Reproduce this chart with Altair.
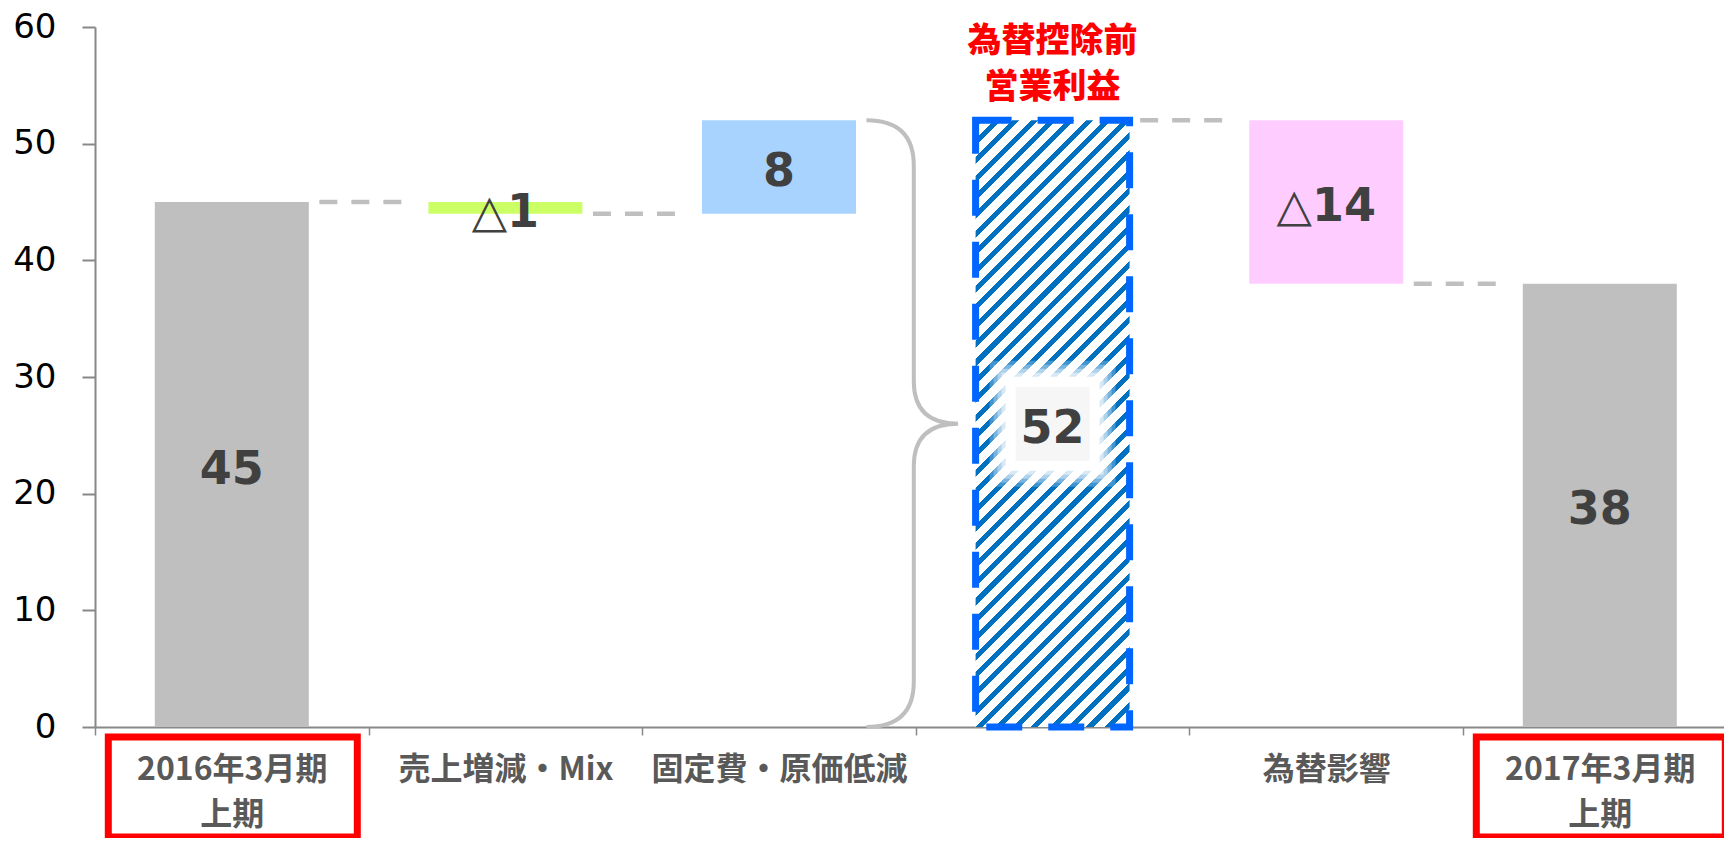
import math
import altair as alt
import pandas as pd

# Waterfall steps: opening total, adjustments, subtotal, adjustment, closing total
categories = ["2016年3月期 上期", "売上増減・Mix", "固定費・原価低減",
              "為替控除前 営業利益", "為替影響", "2017年3月期 上期"]
step_kind = ["total", "delta", "delta", "total", "delta", "total"]
step_value = [45, -1, 8, 52, -14, 38]
bar_colors = ["#BFBFBF", "#CCFF66", "#A9D3FF", "#FFFFFF", "#FFCCFF", "#BFBFBF"]
boxed = [True, False, False, False, False, True]
headline_index = 3
connector_pairs = [(0, 1), (1, 2), (3, 4), (4, 5)]
y_ticks = [0, 10, 20, 30, 40, 50, 60]

# running totals -> bar extents
starts, ends = [], []
running = 0
for kind, v in zip(step_kind, step_value):
    if kind == "total":
        s, e = 0, v
    else:
        s, e = running, running + v
    running = e
    starts.append(s)
    ends.append(e)

labels = [str(v) if v >= 0 else "△" + str(-v) for v in step_value]

df = pd.DataFrame({
    "cat": categories,
    "start": starts,
    "end": ends,
    "mid": [(s + e) / 2 for s, e in zip(starts, ends)],
    "label": labels,
    "boxed": boxed,
    "hatched": [i == headline_index for i in range(len(categories))],
})

conn = pd.DataFrame({
    "src": [categories[a] for a, b in connector_pairs],
    "dst": [categories[b] for a, b in connector_pairs],
    "level": [ends[a] for a, b in connector_pairs],
})

# layout
PLOT_W, PLOT_H = 1629, 700
BAND = 273.6
BAR_W = 154
Y_MAX = 60


def hatch_fill(w, h, period, thick, ink, paper):
    """Diagonal stripes as a hard-stop linear gradient in bounding-box units."""
    r = h / w
    span = (1 + r) / (1 + r * r)
    dt = period * math.sqrt(2) / (w * (1 + r * r))
    frac = thick / period
    stops = []
    t = 0.0
    while t < span + dt and t + dt <= 1:
        stops += [
            {"offset": round(t, 6), "color": ink},
            {"offset": round(t + dt * frac, 6), "color": ink},
            {"offset": round(t + dt * frac, 6), "color": paper},
            {"offset": round(t + dt, 6), "color": paper},
        ]
        t += dt
    stops.append({"offset": 1, "color": paper})
    return {"gradient": "linear", "x1": 0, "y1": 0, "x2": 1, "y2": r, "stops": stops}


bar_h = ends[headline_index] * PLOT_H / Y_MAX
stripes = hatch_fill(BAR_W, bar_h, 13, 5, "#0070C0", "#FFFFFF")

hidden = categories[headline_index]
x_axis = alt.Axis(
    title="", labelAngle=0, tickBand="extent", tickSize=8, tickWidth=1.5,
    tickColor="#888888", domainColor="#888888", domainWidth=2,
    labelFont="Noto Sans CJK JP", labelFontWeight="bold", labelFontSize=32,
    labelColor="#595959", labelLineHeight=45, labelPadding=19, labelLimit=400,
    labelExpr=f"datum.label == '{hidden}' ? '' : split(datum.label, ' ')",
)
y_axis = alt.Axis(
    title="", values=y_ticks, grid=False, labelFont="DejaVu Sans",
    labelFontSize=34, labelColor="#000000", tickSize=13, tickWidth=2,
    tickColor="#888888", domainColor="#888888", domainWidth=2, labelPadding=26,
)

x_scale = alt.Scale(domain=categories, range=[0, BAND * len(categories)],
                    paddingInner=0, paddingOuter=0)
y_scale = alt.Scale(domain=[0, Y_MAX], nice=False)

x_main = alt.X("cat:N", scale=x_scale, sort=categories, axis=x_axis)
x_cat = alt.X("cat:N", title="")

base = alt.Chart(df)
sub = base.transform_filter("datum.hatched")

bars = base.transform_filter("!datum.hatched").mark_bar(width=BAR_W).encode(
    x=x_main,
    y=alt.Y("start:Q", scale=y_scale, axis=y_axis),
    y2="end:Q",
    color=alt.Color("cat:N", scale=alt.Scale(domain=categories, range=bar_colors),
                    legend=None),
)

subtotal = sub.mark_bar(
    width=BAR_W, fill=stripes, stroke="#0066FF", strokeWidth=7,
    strokeDash=[36, 26],
).encode(x=x_cat, y="start:Q", y2="end:Q")

connectors = alt.Chart(conn).mark_rule(
    color="#BFBFBF", strokeWidth=4.5, strokeDash=[18, 14]
).encode(
    x=alt.X("src:N", bandPosition=0.82, title=""),
    x2=alt.X2("dst:N", bandPosition=0.13),
    y="level:Q",
)

# curly brace spanning the subtotal, drawn as a custom symbol
brace_path = ("M -0.156 -1 Q 0 -1 0 -0.85 L 0 -0.14 Q 0 0 0.146 0 "
              "Q 0 0 0 0.14 L 0 0.85 Q 0 1 -0.156 1")
brace = sub.mark_point(
    shape=brace_path, size=bar_h ** 2, filled=False, color="#BFBFBF",
    strokeWidth=4, opacity=1, xOffset=-2,
).encode(x=alt.X("cat:N", bandPosition=0, title=""), y="mid:Q")

# soft white halo behind the subtotal value
halo_layers = [
    sub.mark_square(size=s ** 2, color="#FFFFFF", opacity=op).encode(x=x_cat, y="mid:Q")
    for s, op in [(126, 0.25), (118, 0.3), (110, 0.4), (102, 0.5), (94, 1.0)]
]
halo_core = sub.mark_square(size=74 ** 2, color="#F6F6F6", opacity=1).encode(
    x=x_cat, y="mid:Q")

values = base.mark_text(
    font="DejaVu Sans", fontWeight="bold", fontSize=46, color="#404040",
    baseline="middle", dy=5,
).encode(x=x_cat, y="mid:Q", text="label:N")

heading = sub.mark_text(
    font="Noto Sans CJK JP", fontWeight=900, fontSize=34, color="#FF0000",
    lineBreak=" ", lineHeight=46, baseline="middle", dy=-78,
).encode(x=x_cat, y="end:Q", text="cat:N")

frames = base.transform_filter("datum.boxed").mark_bar(
    width=249, fill="transparent", stroke="#FF0000", strokeWidth=7, xOffset=1,
).encode(x=x_cat, y=alt.value(PLOT_H + 10), y2=alt.value(PLOT_H + 110))

chart = alt.layer(
    bars, subtotal, connectors, brace, *halo_layers, halo_core,
    values, heading, frames,
).properties(
    width=PLOT_W, height=PLOT_H,
    autosize=alt.AutoSizeParams(type="none"),
    padding={"left": 95, "top": 27, "right": 0, "bottom": 111},
).configure_view(strokeWidth=0)

chart.save("out.html", embed_options={"renderer": "svg", "actions": False})
